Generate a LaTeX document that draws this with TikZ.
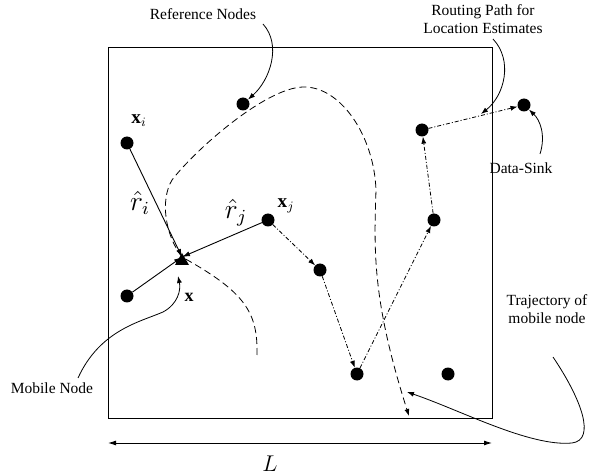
\documentclass[tikz,border=0pt]{standalone}
\usepackage{graphicx}
\usepackage{fontspec}
\setmainfont{Liberation Serif}
\usetikzlibrary{arrows.meta}
\usetikzlibrary{calc}
\newcommand{\symlbl}[2]{\scalebox{#1}{$#2$}}

\tikzset{
  refnode/.style={circle,fill=black,inner sep=0pt,minimum size=13pt},
  route/.style={-{Latex[length=7pt,width=5pt]},line width=0.8pt,dash pattern=on 4pt off 2pt on 1pt off 2pt},
  ranging/.style={-{Latex[length=8pt,width=5pt]},line width=0.9pt},
  pointer/.style={-{Latex[length=7pt,width=5pt]},line width=0.8pt},
  traj/.style={-{Latex[length=7pt,width=5pt]},line width=0.8pt,dash pattern=on 7pt off 4pt},
  lbl/.style={font=\fontsize{15.5}{18}\selectfont,align=center,inner sep=1pt},
  sym/.style={font=\fontsize{12}{14}\selectfont,inner sep=0pt},
}

\begin{document}
\begin{tikzpicture}[x=1pt,y=-1pt]
\useasboundingbox (0,0) rectangle (590,476);
% draw field
\draw[line width=0.9pt] (108,47) rectangle (492,418);
\coordinate (Lleft) at (108,443);
\coordinate (Lright) at (492,443);
\draw[{Latex[length=8pt,width=5pt]}-{Latex[length=8pt,width=5pt]},line width=0.9pt] (Lleft) -- (Lright);
\node[sym] (Llbl) at (270,464) {\symlbl{1.9}{L}};
% draw reference nodes
\node[refnode] (ref1) at (243,104) {};
\node[refnode] (xi) at (127,143) {};
\node[refnode] (lowl) at (127,296) {};
\node[refnode] (xj) at (268,220) {};
\node[refnode] (n1) at (320,270) {};
\node[refnode] (n2) at (357,374) {};
\node[refnode] (n3) at (434,220) {};
\node[refnode] (n4) at (422,130) {};
\node[refnode] (sink) at (524,105) {};
\node[refnode] (n5) at (448,374) {};
% draw mobile node
\coordinate (mob) at (182,257);
\fill (175,265) -- (189,265) -- (182,253) -- cycle;
\draw[ranging] (xi) -- (mob);
\draw[ranging] (xj) -- (mob);
\draw[ranging] (lowl) -- (mob);
% draw trajectory
\coordinate (tstart) at (257,355);
\draw[traj] (tstart) .. controls (258,312) and (245,292) .. (mob)
  .. controls (165,235) and (160,200) .. (172,180)
  .. controls (195,150) and (265,88) .. (303,87)
  .. controls (340,86) and (374,135) .. (376,190)
  .. controls (374,250) and (372,300) .. (409,416);
% draw routing path
\draw[route] (xj) -- (n1);
\draw[route] (n1) -- (n2);
\draw[route] (n2) -- (n3);
\draw[route] (n3) -- (n4);
\draw[route] (n4) -- (sink);
% vector names
\node[sym] (xilbl) at (139,121) {\symlbl{1.6}{\mathbf{x}_i}};
\node[sym] (xjlbl) at (286,206) {\symlbl{1.6}{\mathbf{x}_j}};
\node[sym] (xlbl) at (189,297) {\symlbl{1.5}{\mathbf{x}}};
\node[sym] (rilbl) at (140,203) {\symlbl{2.3}{\hat{r}_i}};
\node[sym] (rjlbl) at (236,213) {\symlbl{2.3}{\hat{r}_j}};
% annotations
\node[lbl] (reflbl) at (203,14) {Reference Nodes};
\node[lbl] (routelbl) at (483,19) {Routing Path for\\Location Estimates};
\node[lbl] (sinklbl) at (521,168) {Data-Sink};
\node[lbl] (moblbl) at (52,388) {Mobile Node};
\node[lbl] (trajlbl) at (547,309) {Trajectory of\\mobile node};
\coordinate (reffrom) at (263,24);
\coordinate (routefrom) at (493,39);
\coordinate (routeto) at (481,114);
\coordinate (sinkfrom) at (540,154);
\coordinate (mobfrom) at (78,378);
\coordinate (mobto) at (178,276);
\coordinate (trajfrom) at (553,357);
\coordinate (trajto) at (407,392);
\draw[pointer] (reffrom) .. controls (282,45) and (270,80) .. (ref1);
\draw[pointer] (routefrom) .. controls (513,60) and (505,95) .. (routeto);
\draw[pointer] (sinkfrom) .. controls (546,135) and (540,120) .. (sink);
\draw[pointer] (mobfrom) .. controls (100,330) and (140,322) .. (163,312)
  .. controls (178,304) and (181,290) .. (mobto);
\draw[pointer] (trajfrom) .. controls (582,400) and (596,440) .. (572,443)
  .. controls (530,447) and (460,410) .. (trajto);
\end{tikzpicture}
\end{document}
